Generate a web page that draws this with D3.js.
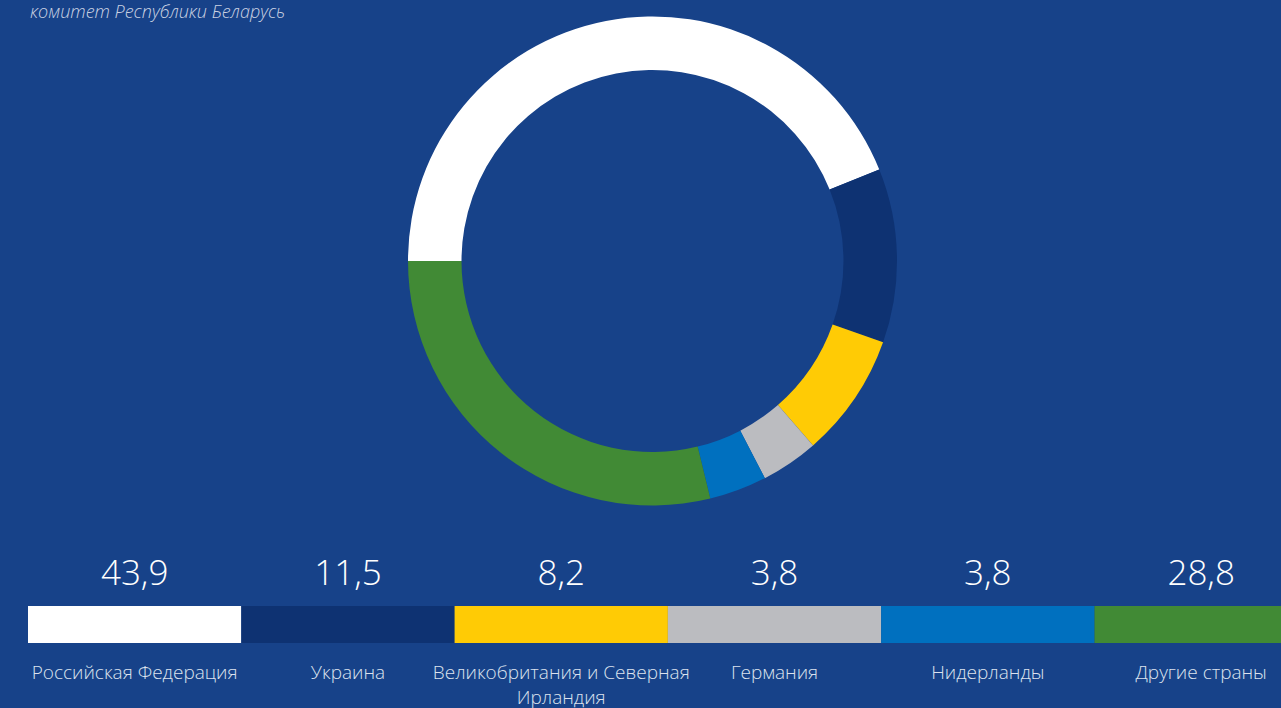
<!DOCTYPE html>
<html>
<head>
<meta charset="utf-8">
<script src="https://cdn.jsdelivr.net/npm/d3@7"></script>
<style>
  html, body { margin: 0; padding: 0; background: #174289; overflow: hidden; }
  svg { display: block; font-family: "Open Sans", "Noto Sans", sans-serif; }
</style>
</head>
<body>
<div class="visualizations"></div>
<script>
(function() {
  'use strict';
  var width = 1281, height = 708;

  var countries = ["Российская Федерация", "Украина", "Великобритания и Северная Ирландия", "Германия", "Нидерланды", "Другие страны"];
  var shares = [43.9, 11.5, 8.2, 3.8, 3.8, 28.8];
  var colors = ["#ffffff", "#0e3272", "#ffcb05", "#bbbcc0", "#0070bf", "#418a35"];
  var valueLabels = ["43,9", "11,5", "8,2", "3,8", "3,8", "28,8"];

  var data = countries.map(function(c, i) {
    return { name: c, value: shares[i], color: colors[i], label: valueLabels[i] };
  });

  var svg = d3.select(".visualizations").append("svg")
    .attr("width", width).attr("height", height);

  // source note (cut at the top)
  svg.append("text")
    .attr("x", 30).attr("y", 18)
    .style("font-size", "18px").style("font-style", "italic").style("font-weight", 300)
    .style("fill", "#c9d1e2")
    .text("комитет Республики Беларусь");

  // donut
  var pie = d3.pie().value(function(d) { return d.value; }).sort(null)
    .startAngle(-Math.PI / 2).endAngle(1.5 * Math.PI);
  var arc = d3.arc().innerRadius(191).outerRadius(244.5);

  var g = svg.append("g").attr("transform", "translate(652.5,261)");
  g.selectAll("path").data(pie(data)).enter().append("path")
    .attr("d", arc)
    .style("fill", function(d) { return d.data.color; });

  // legend strip
  var x = d3.scaleBand().domain(countries).range([28, 28 + 213.3 * 6]).padding(0);

  svg.selectAll("rect.seg").data(data).enter().append("rect")
    .attr("class", "seg")
    .attr("x", function(d) { return x(d.name); })
    .attr("y", 606)
    .attr("width", x.bandwidth())
    .attr("height", 37)
    .style("fill", function(d) { return d.color; });

  svg.selectAll("text.val").data(data).enter().append("text")
    .attr("class", "val")
    .attr("x", function(d) { return x(d.name) + x.bandwidth() / 2; })
    .attr("y", 585)
    .attr("text-anchor", "middle")
    .style("font-size", "35px").style("font-weight", 300)
    .style("fill", "#ffffff")
    .text(function(d) { return d.label; });

  var names = svg.selectAll("text.name").data(data).enter().append("text")
    .attr("class", "name")
    .attr("x", function(d) { return x(d.name) + x.bandwidth() / 2; })
    .attr("y", 679)
    .attr("text-anchor", "middle")
    .style("font-size", "19px").style("font-weight", 300)
    .style("fill", "#dce2ee")
    .text(function(d) { return d.name; });

  // wrap long labels
  names.each(function() {
    var t = d3.select(this), words = t.text().split(" "), line = [], lines = [];
    var cx = t.attr("x");
    t.text(null);
    var probe = t.append("tspan");
    words.forEach(function(w) {
      line.push(w);
      probe.text(line.join(" "));
      if (probe.node().getComputedTextLength() > 270 && line.length > 1) {
        line.pop();
        lines.push(line.join(" "));
        line = [w];
      }
    });
    lines.push(line.join(" "));
    probe.remove();
    lines.forEach(function(l, i) {
      t.append("tspan").attr("x", cx).attr("dy", i ? 25 : 0).text(l);
    });
  });
})();
</script>
</body>
</html>
